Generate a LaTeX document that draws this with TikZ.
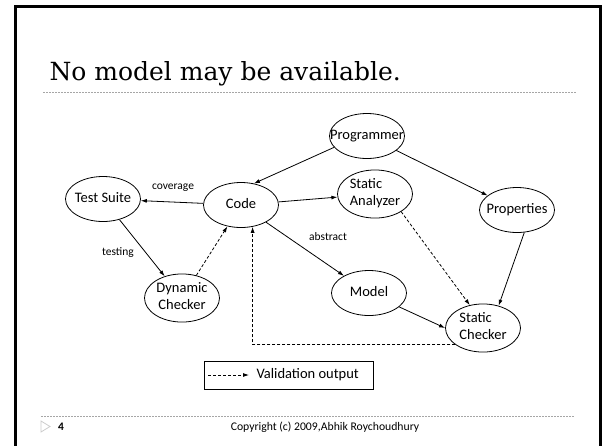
\documentclass[tikz,border=0pt]{standalone}
\usepackage{fontspec}
\setmainfont{Carlito}
\newfontfamily\titlefont{DejaVu Serif}
\usetikzlibrary{shapes.geometric,arrows.meta}

\tikzset{
    blob/.style={ellipse, draw, line width=0.8pt, minimum width=75pt, minimum height=45pt,
        inner sep=0pt, font=\fontsize{14.5}{17}\selectfont},
    link/.style={line width=0.8pt, -{Latex[length=6pt,width=4pt]}},
    valid/.style={link, dash pattern=on 3pt off 2pt},
    tag/.style={font=\fontsize{11.5}{13}\selectfont},
    rule/.style={gray!70, line width=0.8pt, dash pattern=on 1.5pt off 1.5pt},
}
\newcommand{\intext}[2][c]{\makebox[0pt]{\begin{tabular}{@{}#1@{}}#2\end{tabular}}}

\begin{document}
\begin{tikzpicture}[x=1pt, y=-1pt]
    \useasboundingbox (0,0) rectangle (602,445);
    \draw[line width=3pt] (15,470) -- (15,6) -- (600,6) -- (600,470);

    \node[anchor=base west, font=\titlefont\fontsize{25}{30}\selectfont] (title) at (46,80) {No model may be available.};
    \draw[rule] (43,92) -- (577,92);

    \node[blob] (prog) at (367,136) {\intext{Programmer}};
    \node[blob] (code) at (241,205) {\intext{Code}};
    \node[blob] (suite) at (103,199) {\intext{Test Suite}};
    \node[blob] (analyzer) at (375,194) {\intext[l]{Static\\Analyzer}};
    \node[blob] (props) at (517,210) {\intext{Properties}};
    \node[blob] (dyn) at (182,298) {\intext{Dynamic\\Checker}};
    \node[blob] (model) at (369,293) {\intext{Model}};
    \node[blob] (checker) at (483,328) {\intext[l]{Static\\Checker}};

    \foreach \from/\to in {prog/props, code/suite, code/analyzer, code/model, suite/dyn} {
        \draw[link] (\from) -- (\to);
    }
    \draw[link] (prog.199) -- (code.59);
    \draw[link] (model) -- (checker.west);
    \draw[link] (props.-72) -- (checker.55);
    \draw[valid] (dyn) -- (code);
    \draw[valid] (analyzer.-34) -- (checker.120);
    \draw[valid] (checker.211) -| (code.-62);

    \node[tag] (coverage) at (173,188) {coverage};
    \node[tag] (testing) at (118,253) {testing};
    \node[tag] (abstract) at (328,237) {abstract};

    \node[draw, line width=0.9pt, minimum width=169pt, minimum height=28pt] (legend) at (288.5,375) {};
    \coordinate (legfrom) at (208,375);
    \coordinate (legto) at (249,375);
    \draw[valid] (legfrom) -- (legto);
    \node[anchor=west, font=\fontsize{14.5}{17}\selectfont] (legtext) at (253,375) {Validation output};

    \draw[rule] (41,416) -- (575,416);
    \draw[gray!40, line width=0.8pt] (41,421) -- (50,426.5) -- (41,432) -- cycle;
    \node[font=\fontsize{11.5}{13}\selectfont\bfseries] (pagenum) at (61,427) {4};
    \node[font=\fontsize{11.7}{13}\selectfont] (copyright) at (325,427) {Copyright (c) 2009,Abhik Roychoudhury};
\end{tikzpicture}
\end{document}
